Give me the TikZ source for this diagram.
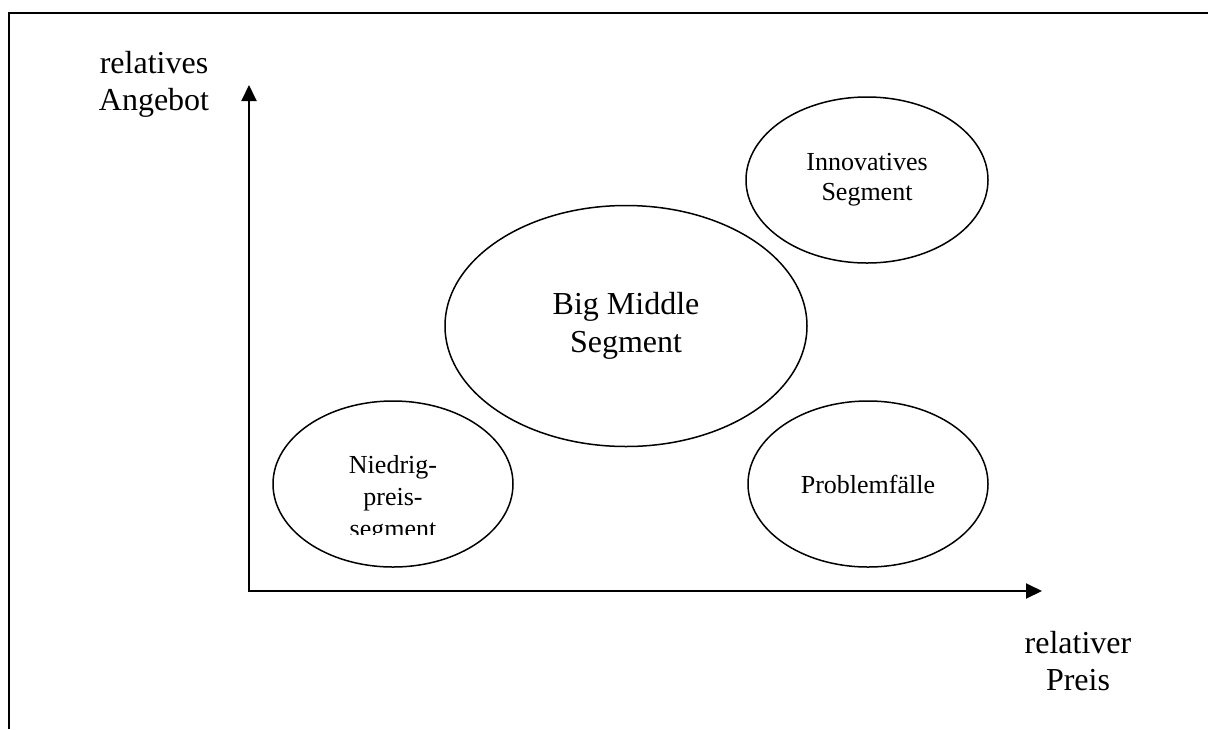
\documentclass[tikz,border=0pt]{standalone}
\usepackage{fontspec}
\setmainfont{Liberation Serif}
\usetikzlibrary{shapes.geometric,arrows.meta}
\begin{document}
\begin{tikzpicture}[x=1pt,y=-1pt,
  seg/.style={ellipse, draw, line width=1.5pt, inner sep=0pt, align=center, font=\fontsize{26}{30}\selectfont},
  axis/.style={line width=2pt, line join=miter, {Triangle[length=16pt,width=15pt]}-{Triangle[length=16pt,width=15pt]}},
  lbl/.style={align=center, font=\fontsize{32}{37}\selectfont, inner sep=0pt},
  frame/.style={line width=2.8pt}]
\useasboundingbox (0,0) rectangle (1208,729);
% frame
\draw[frame] (9,729) -- (9,13) -- (1208,13);
% axes
\coordinate (O) at (249,591);
\coordinate (ytip) at (249,85);
\coordinate (xtip) at (1042,591);
\draw[axis] (ytip) -- (O) -- (xtip);
% axis labels
\node[lbl] (ylab) at (154,84) {relatives\\Angebot};
\node[lbl] (xlab) at (1078,661) {relativer\\Preis};
% segments
\node[seg, minimum width=362pt, minimum height=241pt, font=\fontsize{32}{38}\selectfont] (big) at (626,326) {Big Middle\\Segment};
\node[seg, minimum width=242pt, minimum height=166pt] (inno) at (867,180) {Innovatives\\Segment};
\node[seg, minimum width=240pt, minimum height=166pt] (prob) at (868,484) {Problemfälle};
\node[seg, minimum width=240pt, minimum height=166pt] (low) at (393,484) {};
\begin{scope}
\clip (260,430) rectangle (520,534);
\node[align=center, inner sep=0pt, font=\fontsize{26}{32}\selectfont] (lowtxt) at (393,499) {Niedrig-\\preis-\\segment};
\end{scope}
\end{tikzpicture}
\end{document}
